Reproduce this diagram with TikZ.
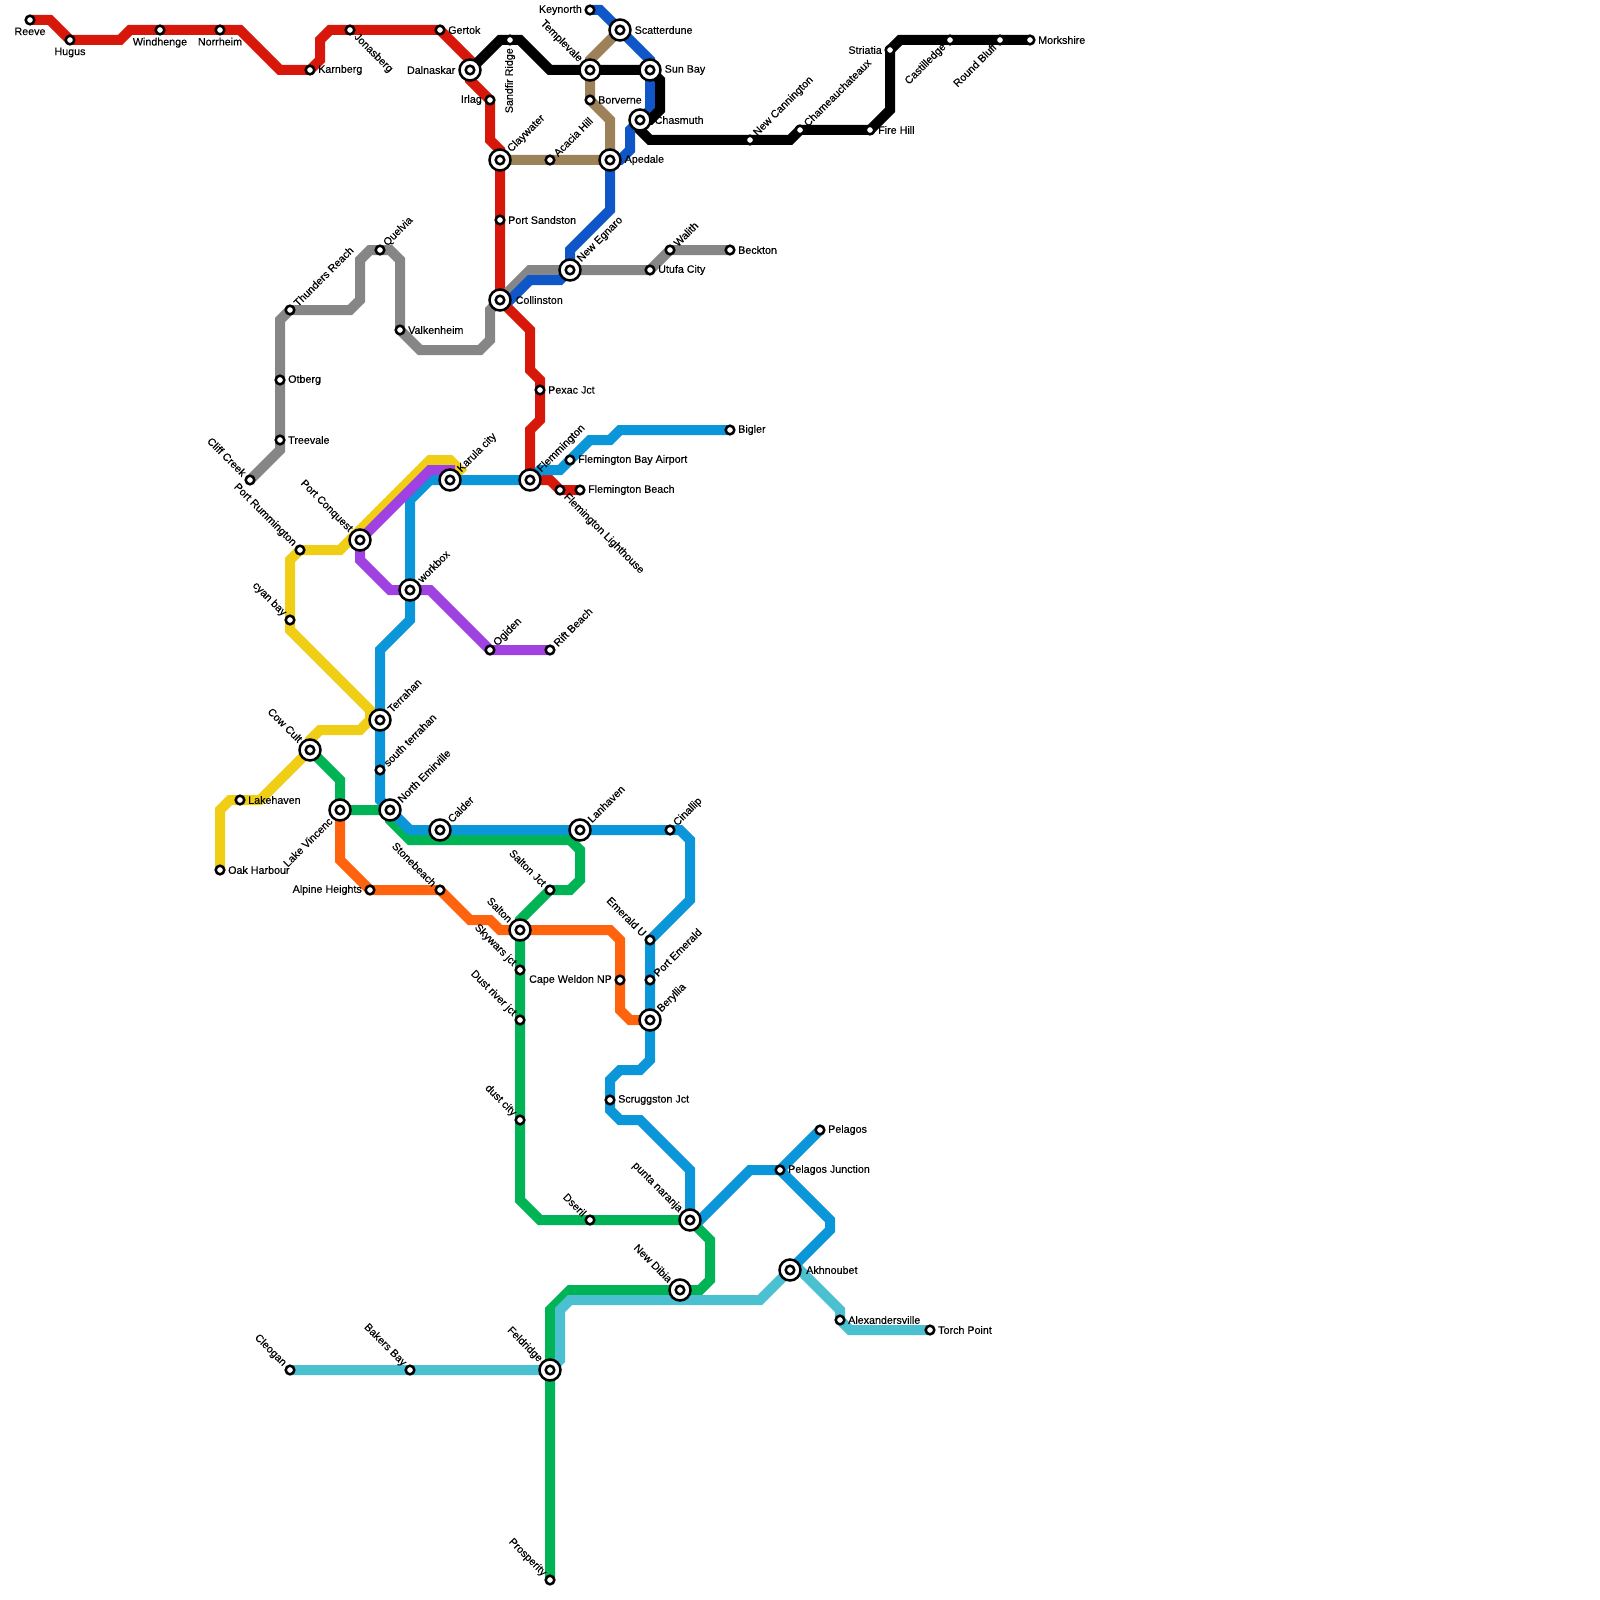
\documentclass[tikz,border=0pt]{standalone}
\usepackage{fontspec}
\setmainfont{Liberation Sans}[FakeBold=0.25]
\usetikzlibrary{backgrounds}
\definecolor{redc}{HTML}{D6170A}
\definecolor{tanc}{HTML}{9C8159}
\definecolor{grayc}{HTML}{868686}
\definecolor{bluec}{HTML}{0F56C8}
\definecolor{cyanc}{HTML}{0A96D8}
\definecolor{yelc}{HTML}{F0CE15}
\definecolor{purc}{HTML}{A041E2}
\definecolor{grnc}{HTML}{00B456}
\definecolor{orac}{HTML}{FF630D}
\definecolor{teac}{HTML}{4AC0D0}
\tikzset{
  mline/.style={line width=1mm},
  stn/.style={circle, draw=black, fill=white, line width=.25mm, minimum size=.86mm, inner sep=0pt},
  hub/.style={circle, draw=black, fill=white, line width=.25mm, minimum size=2.1mm, inner sep=0pt,
    path picture={\draw[black, line width=.25mm] (path picture bounding box.center) circle (.43mm);}},
  txt/.style={font=\fontsize{3.05pt}{3.2pt}\selectfont, inner sep=0pt, text=black},
  tr/.style={txt, anchor=west, xshift=#1}, tr/.default=.75mm,
  tl/.style={txt, anchor=east, xshift=-#1}, tl/.default=.75mm,
  tb/.style={txt, anchor=north, yshift=-#1}, tb/.default=.7mm,
  tv/.style={txt, anchor=east, yshift=-#1, rotate=90}, tv/.default=.75mm,
  tne/.style={txt, anchor=west, xshift=#1, yshift=#1, rotate=45}, tne/.default=.5mm,
  tse/.style={txt, anchor=west, xshift=#1, yshift=-#1, rotate=-45}, tse/.default=.5mm,
  tsw/.style={txt, anchor=east, xshift=-#1, yshift=-#1, rotate=45}, tsw/.default=.5mm,
  tnw/.style={txt, anchor=east, xshift=-#1, yshift=#1, rotate=-45}, tnw/.default=.5mm,
}
\begin{document}
\begin{tikzpicture}[x=1mm, y=-1mm]
  \useasboundingbox (0,0) rectangle (160,160);
  % top row
  \node[stn] (reeve) at (3,2){}; \node[tb] (treeve) at (reeve){Reeve};
  \node[stn] (hugus) at (7,4){}; \node[tb] (thugus) at (hugus){Hugus};
  \node[stn] (windhenge) at (16,3){}; \node[tb] (twindhenge) at (windhenge){Windhenge};
  \node[stn] (norrheim) at (22,3){}; \node[tb] (tnorrheim) at (norrheim){Norrheim};
  \node[stn] (karnberg) at (31,7){}; \node[tr] (tkarnberg) at (karnberg){Karnberg};
  \node[stn] (jonasberg) at (35,3){}; \node[tse] (tjonasberg) at (jonasberg){Jonasberg};
  \node[stn] (gertok) at (44,3){}; \node[tr] (tgertok) at (gertok){Gertok};
  \node[hub] (dalnaskar) at (47,7){}; \node[tl=1.4mm] (tdalnaskar) at (dalnaskar){Dalnaskar};
  \node[stn] (irlag) at (49,10){}; \node[tl] (tirlag) at (irlag){Irlag};
  \node[stn] (sandfir) at (51,4){}; \node[tv] (tsandfir) at (sandfir){Sandfir Ridge};
  \node[hub] (claywater) at (50,16){}; \node[tne=.9mm] (tclaywater) at (claywater){Claywater};
  \node[stn] (sandston) at (50,22){}; \node[tr] (tsandston) at (sandston){Port Sandston};
  \node[stn] (acacia) at (55,16){}; \node[tne] (tacacia) at (acacia){Acacia Hill};
  \node[stn] (keynorth) at (59,1){}; \node[tl] (tkeynorth) at (keynorth){Keynorth};
  \node[hub] (scatterdune) at (62,3){}; \node[tr=1.4mm] (tscatterdune) at (scatterdune){Scatterdune};
  \node[hub] (templevale) at (59,7){}; \node[tnw=.9mm] (ttemplevale) at (templevale){Templevale};
  \node[hub] (sunbay) at (65,7){}; \node[tr=1.4mm] (tsunbay) at (sunbay){Sun Bay};
  \node[stn] (borverne) at (59,10){}; \node[tr] (tborverne) at (borverne){Borverne};
  \node[hub] (chasmuth) at (64,12){}; \node[tr=1.4mm] (tchasmuth) at (chasmuth){Chasmuth};
  \node[hub] (apedale) at (61,16){}; \node[tr=1.4mm] (tapedale) at (apedale){Apedale};
  \node[stn] (cannington) at (75,14){}; \node[tne] (tcannington) at (cannington){New Cannington};
  \node[stn] (chameau) at (80,13){}; \node[tne] (tchameau) at (chameau){Chameauchateaux};
  \node[stn] (firehill) at (87,13){}; \node[tr] (tfirehill) at (firehill){Fire Hill};
  \node[stn] (striatia) at (89,5){}; \node[tl] (tstriatia) at (striatia){Striatia};
  \node[stn] (castilledge) at (95,4){}; \node[tsw] (tcastilledge) at (castilledge){Castilledge};
  \node[stn] (roundbluff) at (100,4){}; \node[tsw] (troundbluff) at (roundbluff){Round Bluff};
  \node[stn] (morkshire) at (103,4){}; \node[tr] (tmorkshire) at (morkshire){Morkshire};
  % middle
  \node[stn] (thunders) at (29,31){}; \node[tne] (tthunders) at (thunders){Thunders Reach};
  \node[stn] (quelvia) at (38,25){}; \node[tne] (tquelvia) at (quelvia){Quelvia};
  \node[stn] (valkenheim) at (40,33){}; \node[tr] (tvalkenheim) at (valkenheim){Valkenheim};
  \node[stn] (otberg) at (28,38){}; \node[tr] (totberg) at (otberg){Otberg};
  \node[stn] (treevale) at (28,44){}; \node[tr] (ttreevale) at (treevale){Treevale};
  \node[stn] (cliffcreek) at (25,48){}; \node[tnw] (tcliffcreek) at (cliffcreek){Cliff Creek};
  \node[hub] (collinston) at (50,30){}; \node[tr=1.5mm] (tcollinston) at (collinston){Collinston};
  \node[hub] (egnaro) at (57,27){}; \node[tne=.9mm] (tegnaro) at (egnaro){New Egnaro};
  \node[stn] (utufa) at (65,27){}; \node[tr] (tutufa) at (utufa){Utufa City};
  \node[stn] (walith) at (67,25){}; \node[tne] (twalith) at (walith){Walith};
  \node[stn] (beckton) at (73,25){}; \node[tr] (tbeckton) at (beckton){Beckton};
  \node[stn] (pexac) at (54,39){}; \node[tr] (tpexac) at (pexac){Pexac Jct};
  \node[stn] (bigler) at (73,43){}; \node[tr] (tbigler) at (bigler){Bigler};
  \node[stn] (airport) at (57,46){}; \node[tr] (tairport) at (airport){Flemington Bay Airport};
  \node[hub] (flemmington) at (53,48){}; \node[tne=.9mm] (tflemmington) at (flemmington){Flemmington};
  \node[stn] (lighthouse) at (56,49){}; \node[tse] (tlighthouse) at (lighthouse){Flemington Lighthouse};
  \node[stn] (fbeach) at (58,49){}; \node[tr] (tfbeach) at (fbeach){Flemington Beach};
  \node[hub] (karula) at (45,48){}; \node[tne=.9mm] (tkarula) at (karula){Karula city};
  \node[hub] (conquest) at (36,54){}; \node[tnw=.9mm] (tconquest) at (conquest){Port Conquest};
  \node[stn] (rummington) at (30,55){}; \node[tnw] (trummington) at (rummington){Port Rummington};
  \node[stn] (cyanbay) at (29,62){}; \node[tnw] (tcyanbay) at (cyanbay){cyan bay};
  \node[hub] (workbox) at (41,59){}; \node[tne=.9mm] (tworkbox) at (workbox){workbox};
  \node[stn] (ogiden) at (49,65){}; \node[tne] (togiden) at (ogiden){Ogiden};
  \node[stn] (riftbeach) at (55,65){}; \node[tne] (triftbeach) at (riftbeach){Rift Beach};
  \node[hub] (terrahan) at (38,72){}; \node[tne=.9mm] (tterrahan) at (terrahan){Terrahan};
  \node[stn] (sterrahan) at (38,77){}; \node[tne] (tsterrahan) at (sterrahan){south terrahan};
  \node[hub] (cowcult) at (31,75){}; \node[tnw=.9mm] (tcowcult) at (cowcult){Cow Cult};
  \node[stn] (lakehaven) at (24,80){}; \node[tr] (tlakehaven) at (lakehaven){Lakehaven};
  \node[stn] (oakharbour) at (22,87){}; \node[tr] (toakharbour) at (oakharbour){Oak Harbour};
  \node[hub] (vincenc) at (34,81){}; \node[tsw=.9mm] (tvincenc) at (vincenc){Lake Vincenc};
  \node[hub] (emirville) at (39,81){}; \node[tne=.9mm] (temirville) at (emirville){North Emirville};
  \node[hub] (calder) at (44,83){}; \node[tne=.9mm] (tcalder) at (calder){Calder};
  \node[hub] (lanhaven) at (58,83){}; \node[tne=.9mm] (tlanhaven) at (lanhaven){Lanhaven};
  \node[stn] (cinallip) at (67,83){}; \node[tne] (tcinallip) at (cinallip){Cinallip};
  % lower
  \node[stn] (alpine) at (37,89){}; \node[tl] (talpine) at (alpine){Alpine Heights};
  \node[stn] (stonebeach) at (44,89){}; \node[tnw] (tstonebeach) at (stonebeach){Stonebeach};
  \node[stn] (saltonjct) at (55,89){}; \node[tnw] (tsaltonjct) at (saltonjct){Salton Jct};
  \node[hub] (salton) at (52,93){}; \node[tnw=.9mm] (tsalton) at (salton){Salton};
  \node[stn] (skywars) at (52,97){}; \node[tnw] (tskywars) at (skywars){Skywars jct};
  \node[stn] (dustriver) at (52,102){}; \node[tnw] (tdustriver) at (dustriver){Dust river jct};
  \node[stn] (dustcity) at (52,112){}; \node[tnw] (tdustcity) at (dustcity){dust city};
  \node[stn] (weldon) at (62,98){}; \node[tl] (tweldon) at (weldon){Cape Weldon NP};
  \node[stn] (emeraldu) at (65,94){}; \node[tnw] (temeraldu) at (emeraldu){Emerald U};
  \node[stn] (pemerald) at (65,98){}; \node[tne] (tpemerald) at (pemerald){Port Emerald};
  \node[hub] (beryllia) at (65,102){}; \node[tne=.9mm] (tberyllia) at (beryllia){Beryllia};
  \node[stn] (scruggston) at (61,110){}; \node[tr] (tscruggston) at (scruggston){Scruggston Jct};
  \node[stn] (dseril) at (59,122){}; \node[tnw] (tdseril) at (dseril){Dseril};
  \node[hub] (punta) at (69,122){}; \node[tnw=.9mm] (tpunta) at (punta){punta naranja};
  \node[stn] (pelagos) at (82,113){}; \node[tr] (tpelagos) at (pelagos){Pelagos};
  \node[stn] (pjunction) at (78,117){}; \node[tr] (tpjunction) at (pjunction){Pelagos Junction};
  \node[hub] (akhnoubet) at (79,127){}; \node[tr=1.55mm] (takhnoubet) at (akhnoubet){Akhnoubet};
  \node[hub] (newdibia) at (68,129){}; \node[tnw=.9mm] (tnewdibia) at (newdibia){New Dibia};
  \node[stn] (alexanders) at (84,132){}; \node[tr] (talexanders) at (alexanders){Alexandersville};
  \node[stn] (torch) at (93,133){}; \node[tr] (ttorch) at (torch){Torch Point};
  \node[hub] (feldridge) at (55,137){}; \node[tnw=.9mm] (tfeldridge) at (feldridge){Feldridge};
  \node[stn] (cleogan) at (29,137){}; \node[tnw] (tcleogan) at (cleogan){Cleogan};
  \node[stn] (bakers) at (41,137){}; \node[tnw] (tbakers) at (bakers){Bakers Bay};
  \node[stn] (prosperity) at (55,158){}; \node[tnw] (tprosperity) at (prosperity){Prosperity};
  % lines
  \begin{scope}[on background layer]
    \draw[mline, redc] (reeve.center) -- (5,2) -- (hugus.center) -- (12,4) -- (13,3) -- (norrheim.center) -- (24,3) -- (28,7) -- (karnberg.center) -- (32,6) -- (32,4) -- (33,3) -- (gertok.center) -- (47,6) -- (47,8) -- (irlag.center) -- (49,14) -- (50,15) -- (claywater.center) -- (collinston.center) -- (53,33) -- (53,37) -- (54,38) -- (54,42) -- (53,43) -- (flemmington.center) -- (55,48) -- (lighthouse.center) -- (fbeach.center);
    \draw[mline, grayc] (cliffcreek.center) -- (28,45) -- (28,32) -- (thunders.center) -- (35,31) -- (36,30) -- (36,26) -- (37,25) -- (39,25) -- (40,26) -- (valkenheim.center) -- (42,35) -- (48,35) -- (49,34) -- (49,31) -- (collinston.center) -- (53,27) -- (utufa.center) -- (walith.center) -- (beckton.center);
    \draw[mline, yelc] (oakharbour.center) -- (22,81) -- (23,80) -- (26,80) -- (cowcult.center) -- (31,74) -- (32,73) -- (36,73) -- (37,72) -- (37,71) -- (29,63) -- (29,56) -- (rummington.center) -- (34,55) -- (36,53) -- (43,46) -- (45,46) -- (46,47) -- (karula.center);
    \draw[mline, grnc] (cowcult.center) -- (34,78) -- (vincenc.center) -- (emirville.center) -- (39,82) -- (41,84) -- (57,84) -- (58,85) -- (58,88) -- (57,89) -- (saltonjct.center) -- (52,92) -- (salton.center) -- (52,120) -- (54,122) -- (punta.center) -- (71,124) -- (71,128) -- (70,129) -- (57,129) -- (55,131) -- (prosperity.center);
    \draw[mline, orac] (vincenc.center) -- (34,86) -- (alpine.center) -- (stonebeach.center) -- (47,92) -- (49,92) -- (50,93) -- (61,93) -- (62,94) -- (62,101) -- (63,102) -- (beryllia.center);
    \draw[mline, teac] (cleogan.center) -- (feldridge.center) -- (56,136) -- (56,131) -- (57,130) -- (76,130) -- (akhnoubet.center) -- (80,127) -- (84,131) -- (84,132) -- (85,133) -- (torch.center);
    \draw[mline, cyanc] (bigler.center) -- (62,43) -- (61,44) -- (59,44) -- (56,47) -- (54,47) -- (flemmington.center) -- (43,48) -- (41,50) -- (41,62) -- (38,65) -- (38,80) -- (41,83) -- (68,83) -- (69,84) -- (69,90) -- (emeraldu.center) -- (65,106) -- (64,107) -- (62,107) -- (61,108) -- (61,111) -- (62,112) -- (64,112) -- (69,117) -- (punta.center) -- (70,122) -- (75,117) -- (pjunction.center) -- (pelagos.center);
    \draw[mline, cyanc] (pjunction.center) -- (83,122) -- (83,123) -- (akhnoubet.center);
    \draw[mline, purc] (karula.center) -- (45,47) -- (43,47) -- (conquest.center) -- (36,56) -- (39,59) -- (43,59) -- (ogiden.center) -- (riftbeach.center);
    \draw[mline, bluec] (keynorth.center) -- (60,1) -- (scatterdune.center) -- (65,6) -- (sunbay.center) -- (65,11) -- (chasmuth.center) -- (63,13) -- (63,15) -- (62,16) -- (apedale.center) -- (61,21) -- (57,25) -- (egnaro.center) -- (56,28) -- (53,28) -- (51,30) -- (collinston.center);
    \draw[mline, tanc] (claywater.center) -- (apedale.center) -- (61,12) -- (borverne.center) -- (templevale.center) -- (59,6) -- (scatterdune.center);
    \draw[mline, black] (dalnaskar.center) -- (50,4) -- (52,4) -- (55,7) -- (sunbay.center) -- (66,8) -- (66,11) -- (65,12) -- (chasmuth.center) -- (64,13) -- (65,14) -- (79,14) -- (80,13) -- (firehill.center) -- (89,11) -- (striatia.center) -- (90,4) -- (morkshire.center);
  \end{scope}
\end{tikzpicture}
\end{document}
